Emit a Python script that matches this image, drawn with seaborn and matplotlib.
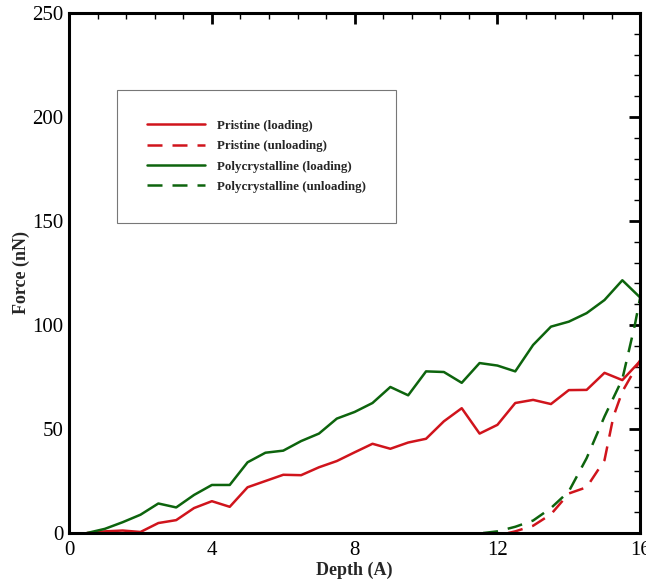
import numpy as np
import pandas as pd
import seaborn as sns
import matplotlib.pyplot as plt
from matplotlib.ticker import MultipleLocator

# loading curves share the same depth grid
depth_load = [0.5, 1.0, 1.5, 2.0, 2.5, 3.0, 3.5, 4.0, 4.5, 5.0, 5.5, 6.0, 6.5, 7.0,
              7.5, 8.0, 8.5, 9.0, 9.5, 10.0, 10.5, 11.0, 11.5, 12.0, 12.5, 13.0,
              13.5, 14.0, 14.5, 15.0, 15.5, 16.0]
pristine_load = [0, 0.8, 1.2, 0.5, 4.8, 6.2, 12.0, 15.3, 12.6, 22.0, 25.0, 28.0, 27.8,
                 31.6, 34.6, 38.8, 42.9, 40.5, 43.5, 45.3, 53.7, 60.0, 47.8, 52.0,
                 62.5, 64.0, 62.0, 68.7, 68.8, 77.0, 73.5, 82.7]
poly_load = [0, 2.0, 5.2, 8.8, 14.2, 12.3, 18.3, 23.1, 23.1, 34.0, 38.6, 39.6, 44.2,
             47.8, 55.0, 58.2, 62.5, 70.2, 66.2, 77.7, 77.4, 72.2, 81.7, 80.5, 77.7,
             90.4, 99.2, 101.6, 105.7, 112.0, 121.5, 113.2]

depth_pristine_unload = [12.3, 12.5, 13.0, 13.5, 14.0, 14.5, 15.0, 15.25, 15.5, 16.0]
pristine_unload = [0, 0.8, 3.5, 9.0, 19.0, 22.0, 35.0, 56.0, 68.0, 83.0]
depth_poly_unload = [11.6, 12.0, 12.5, 13.0, 13.5, 14.0, 14.5, 15.0, 15.5, 15.85, 16.0]
poly_unload = [0, 0.8, 3.0, 6.0, 12.0, 20.0, 36.0, 56.0, 74.0, 100.0, 113.2]

labels = ["Pristine (loading)", "Pristine (unloading)",
          "Polycrystalline (loading)", "Polycrystalline (unloading)"]

df = pd.concat([
    pd.DataFrame({"depth": depth_load, "force": pristine_load, "series": labels[0]}),
    pd.DataFrame({"depth": depth_pristine_unload, "force": pristine_unload, "series": labels[1]}),
    pd.DataFrame({"depth": depth_load, "force": poly_load, "series": labels[2]}),
    pd.DataFrame({"depth": depth_poly_unload, "force": poly_unload, "series": labels[3]}),
])

red = "#d0141c"
green = "#0d640d"
palette = {labels[0]: red, labels[1]: red, labels[2]: green, labels[3]: green}
dashes = {labels[0]: "", labels[1]: (6, 4), labels[2]: "", labels[3]: (6, 4)}

sns.set_style("white")
plt.rcParams["font.family"] = ["Liberation Serif", "DejaVu Serif"]

fig = plt.figure(figsize=(6.46, 5.88), dpi=100)
ax = fig.add_axes([0.107, 0.0935, 0.884, 0.8845])

sns.lineplot(data=df, x="depth", y="force", hue="series", style="series",
             palette=palette, dashes=dashes, linewidth=1.8, estimator=None,
             sort=False, ax=ax)

ax.set_xlim(0, 16)
ax.set_ylim(0, 250)
ax.xaxis.set_major_locator(MultipleLocator(4))
ax.xaxis.set_minor_locator(MultipleLocator(0.8))
ax.yaxis.set_major_locator(MultipleLocator(50))
ax.yaxis.set_minor_locator(MultipleLocator(10))
ax.tick_params(which="both", direction="in", top=True, right=True, colors="black")
ax.tick_params(which="major", length=8, width=2, labelsize=15)
ax.tick_params(axis="x", which="major", pad=6)
ax.tick_params(axis="y", which="major", pad=4)
ax.tick_params(which="minor", length=4, width=1)
for sp in ax.spines.values():
    sp.set_linewidth(2.2)
    sp.set_color("black")

ax.set_xlabel("Depth (A)", fontsize=13, fontweight="bold", labelpad=1)
ax.set_ylabel("Force (nN)", fontsize=13, fontweight="bold", labelpad=2)

handles, _ = ax.get_legend_handles_labels()
leg = ax.legend(handles, labels, loc="upper left", bbox_to_anchor=(0.084, 0.852),
                prop={"weight": "bold", "size": 9.3}, frameon=True, fancybox=False,
                borderpad=2.3, handlelength=4.5, handletextpad=0.95, labelspacing=0.65,
                borderaxespad=0)
leg.get_frame().set_edgecolor("#555555")
leg.get_frame().set_linewidth(0.8)

fig.savefig("out.png", dpi=100)
